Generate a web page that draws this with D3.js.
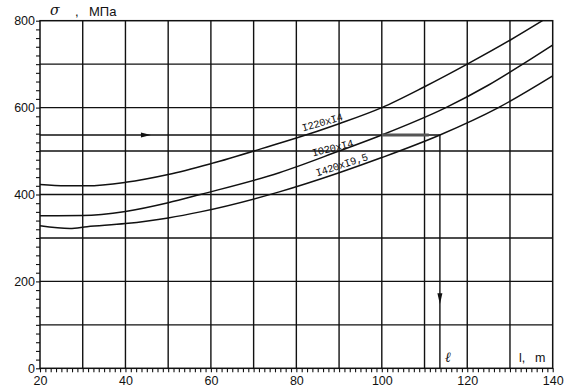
<!DOCTYPE html>
<html><head><meta charset="utf-8">
<script src="https://cdn.jsdelivr.net/npm/d3@7"></script>
<style>
html,body{margin:0;padding:0;background:#fff;}
svg{display:block;}
</style></head>
<body>
<svg id="c" width="568" height="388"></svg>
<script>
// ---- data ----
const xTickLabels = [20, 40, 60, 80, 100, 120, 140];
const yTickLabels = [0, 200, 400, 600, 800];
const xGrid = [30, 40, 50, 60, 70, 80, 90, 100, 110, 120, 130];
const yGrid = [100, 200, 300, 400, 500, 600, 700];

const topX = [20, 26, 31, 40, 50, 60, 76, 80, 90, 100, 110, 120, 130, 137.6];
const topY = [423, 420, 420, 428, 446, 471, 518, 530, 563, 600, 648, 700, 755, 800];
const midX = [20, 30, 40, 50, 57.5, 76, 90, 100, 115, 125, 133, 140];
const midY = [351, 351.5, 361, 381, 400, 450, 500, 537, 600, 652, 700, 744];
const botX = [20, 27, 31, 40, 50, 57.5, 76, 90, 100, 113.6, 127.3, 140];
const botY = [328, 322, 326, 333, 346, 360, 406, 450, 485, 537, 600, 673];
const seriesNames = ["I220xI4", "I020xI4", "I420xI9,5"];

const sigmaLevel = 537;   // horizontal reading line
const lengthRead = 113.6; // resulting length l
// ---- chart ----
const svg = d3.select("#c");
const x = d3.scaleLinear().domain([20, 140]).range([40, 552.7]);
const y = d3.scaleLinear().domain([0, 800]).range([368.3, 20.7]);

const g = svg.append("g");

// grid
g.selectAll(".vg").data(xGrid).join("line")
  .attr("x1", d => x(d)).attr("x2", d => x(d))
  .attr("y1", y(800)).attr("y2", y(0))
  .attr("stroke", "#111").attr("stroke-width", 1.4);
g.selectAll(".hg").data(yGrid).join("line")
  .attr("x1", x(20)).attr("x2", x(140))
  .attr("y1", d => y(d)).attr("y2", d => y(d))
  .attr("stroke", "#111").attr("stroke-width", 1.4);

// frame
g.append("rect").attr("x", x(20)).attr("y", y(800))
  .attr("width", x(140) - x(20)).attr("height", y(0) - y(800))
  .attr("fill", "none").attr("stroke", "#111").attr("stroke-width", 1.5);

// minor ticks
const xMinor = d3.range(20, 140.01, 1.25);
const yMinor = d3.range(0, 800.01, 20);
g.append("g").attr("transform", `translate(0,${y(0)})`)
  .call(d3.axisBottom(x).tickValues(xMinor).tickSize(4).tickFormat(""))
  .call(a => a.select(".domain").remove())
  .call(a => a.selectAll("line").attr("stroke", "#111").attr("stroke-width", 1.1));
g.append("g").attr("transform", `translate(${x(20)},0)`)
  .call(d3.axisLeft(y).tickValues(yMinor).tickSize(4).tickFormat(""))
  .call(a => a.select(".domain").remove())
  .call(a => a.selectAll("line").attr("stroke", "#111").attr("stroke-width", 1.1));

// labels
const xl = g.append("g").attr("transform", `translate(0,${y(0)})`)
  .call(d3.axisBottom(x).tickValues(xTickLabels).tickSize(0).tickPadding(8));
xl.select(".domain").remove();
xl.selectAll("text").attr("font-family", "Liberation Sans, Arial, sans-serif")
  .attr("font-size", 12.5).attr("fill", "#111");
const yl = g.append("g").attr("transform", `translate(${x(20)},0)`)
  .call(d3.axisLeft(y).tickValues(yTickLabels).tickSize(0).tickPadding(5));
yl.select(".domain").remove();
yl.selectAll("text").attr("font-family", "Liberation Sans, Arial, sans-serif")
  .attr("font-size", 12.5).attr("fill", "#111");

// curves
const line = d3.line().x(d => x(d[0])).y(d => y(d[1])).curve(d3.curveMonotoneX);
const series = [d3.zip(topX, topY), d3.zip(midX, midY), d3.zip(botX, botY)];
g.selectAll(".curve").data(series).join("path")
  .attr("d", line).attr("fill", "none").attr("stroke", "#111").attr("stroke-width", 1.5);

// reading lines with arrows
g.append("line").attr("x1", x(20)).attr("x2", x(lengthRead))
  .attr("y1", y(sigmaLevel)).attr("y2", y(sigmaLevel))
  .attr("stroke", "#111").attr("stroke-width", 1.4);
g.append("line").attr("x1", x(100)).attr("x2", x(111))
  .attr("y1", y(sigmaLevel)).attr("y2", y(sigmaLevel))
  .attr("stroke", "#555").attr("stroke-width", 3);
g.append("line").attr("x1", x(lengthRead)).attr("x2", x(lengthRead))
  .attr("y1", y(sigmaLevel)).attr("y2", y(0))
  .attr("stroke", "#111").attr("stroke-width", 1.4);
// arrow heads
const ax = x(45.5), ay = y(sigmaLevel);
g.append("path").attr("d", `M${ax - 8},${ay - 2.5}L${ax + 2},${ay}L${ax - 8},${ay + 2.5}Z`).attr("fill", "#111");
const vx = x(lengthRead), vy = y(152);
g.append("path").attr("d", `M${vx - 2.5},${vy - 9}L${vx},${vy + 2}L${vx + 2.5},${vy - 9}Z`).attr("fill", "#111");

// series labels
const labelPos = [[303, 131.5, -16], [313, 156.5, -14], [317, 176.5, -18]];
g.selectAll(".lab").data(seriesNames).join("text")
  .attr("transform", (d, i) => `translate(${labelPos[i][0]},${labelPos[i][1]}) rotate(${labelPos[i][2]})`)
  .attr("font-family", "Liberation Mono, monospace").attr("font-size", 10.5)
  .attr("letter-spacing", -0.3)
  .attr("fill", "#111").text(d => d);

// axis titles
svg.append("text").attr("x", 50).attr("y", 15).attr("font-family", "DejaVu Serif, serif")
  .attr("font-style", "italic").attr("font-size", 14).attr("fill", "#111").text("σ");
svg.append("text").attr("x", 75).attr("y", 16).attr("font-family", "Liberation Sans, Arial, sans-serif")
  .attr("font-size", 13).attr("fill", "#111").text(",");
svg.append("text").attr("x", 89).attr("y", 16).attr("font-family", "Liberation Sans, Arial, sans-serif")
  .attr("font-size", 13).attr("fill", "#111").text("МПа");
svg.append("text").attr("x", 519).attr("y", 362).attr("font-family", "Liberation Sans, Arial, sans-serif")
  .attr("font-size", 12.5).attr("fill", "#111").text("l,");
svg.append("text").attr("x", 535).attr("y", 362).attr("font-family", "Liberation Sans, Arial, sans-serif")
  .attr("font-size", 12.5).attr("fill", "#111").text("m");
svg.append("text").attr("x", 445).attr("y", 362).attr("font-family", "DejaVu Serif, serif")
  .attr("font-style", "italic").attr("font-size", 14).attr("fill", "#111").text("ℓ");
</script>
</body></html>
